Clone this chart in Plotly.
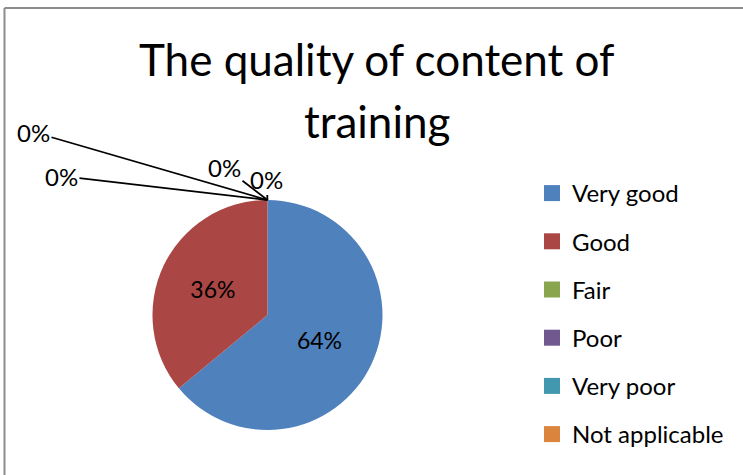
import plotly.graph_objects as go

categories = ["Very good", "Good", "Fair", "Poor", "Very poor", "Not applicable"]
values = [64, 36, 0, 0, 0, 0]
colors = ["#4F81BD", "#AA4643", "#89A54E", "#71588F", "#4198AF", "#DB843D"]
title_lines = ["The quality of content of", "training"]

W, H = 743, 475
FONT = "Lato"

# pie placement (paper fractions)
dom_x = [0.2052, 0.5148]
dom_y = [0.0947, 0.5789]

total = sum(values)
pct_text = [f"{v / total:.0%}" for v in values]
inside_tmpl = ["%{percent:.0%}" if v > 0 else "" for v in values]

fig = go.Figure()
fig.add_trace(go.Pie(
    labels=categories, values=values, sort=False, direction="clockwise",
    rotation=0, marker=dict(colors=colors, line=dict(width=0)),
    texttemplate=inside_tmpl, textposition="inside",
    insidetextorientation="horizontal",
    textfont=dict(family=FONT, size=23, color="black"),
    domain=dict(x=dom_x, y=dom_y), showlegend=False, hoverinfo="label+percent",
))

# legend entries (one group per category so they can be spaced)
for cat, col in zip(categories, colors):
    fig.add_trace(go.Scatter(
        x=[None], y=[None], mode="markers", name=cat, legendgroup=cat,
        marker=dict(symbol="square", size=16, color=col), showlegend=True,
    ))

# zero-value labels with leader lines to the top of the pie
cx = (dom_x[0] + dom_x[1]) / 2
top = dom_y[1]
offsets = [(-234, -68), (-206, -24), (-43, -33), (-1, -21)]
zero_idx = [i for i, v in enumerate(values) if v == 0]
annotations = []
for i, (ax, ay) in zip(zero_idx, offsets):
    annotations.append(dict(
        x=cx, y=top, xref="paper", yref="paper", text=pct_text[i],
        showarrow=True, arrowhead=0, arrowwidth=1.8, arrowcolor="black",
        ax=ax, ay=ay, font=dict(family=FONT, size=24, color="black"),
        standoff=0, startstandoff=0,
    ))

annotations.append(dict(x=0.508, y=1 - 59 / H, xref="paper", yref="paper",
                        text=title_lines[0], showarrow=False,
                        font=dict(family=FONT, size=44, color="black"),
                        xanchor="center", yanchor="middle"))
annotations.append(dict(x=0.508, y=1 - 121 / H, xref="paper", yref="paper",
                        text=title_lines[1], showarrow=False,
                        font=dict(family=FONT, size=44, color="black"),
                        xanchor="center", yanchor="middle"))

shapes = [
    dict(type="line", xref="paper", yref="paper", x0=4.5 / W, x1=1, y0=1 - 8 / H, y1=1 - 8 / H,
         line=dict(color="#8C8C8C", width=2)),
    dict(type="line", xref="paper", yref="paper", x0=4.5 / W, x1=4.5 / W, y0=0, y1=1 - 8 / H,
         line=dict(color="#8C8C8C", width=2)),
]

fig.update_layout(
    width=W, height=H, margin=dict(l=0, r=0, t=0, b=0),
    paper_bgcolor="white", plot_bgcolor="white",
    xaxis=dict(visible=False), yaxis=dict(visible=False),
    legend=dict(x=532 / W, y=1 - 171 / H, xanchor="left", yanchor="top",
                font=dict(family=FONT, size=24, color="black"),
                tracegroupgap=14, bgcolor="rgba(0,0,0,0)"),
    annotations=annotations, shapes=shapes,
)

fig.write_html("out.html", config={"displayModeBar": False},
               post_script="document.body.style.margin='0px';")
